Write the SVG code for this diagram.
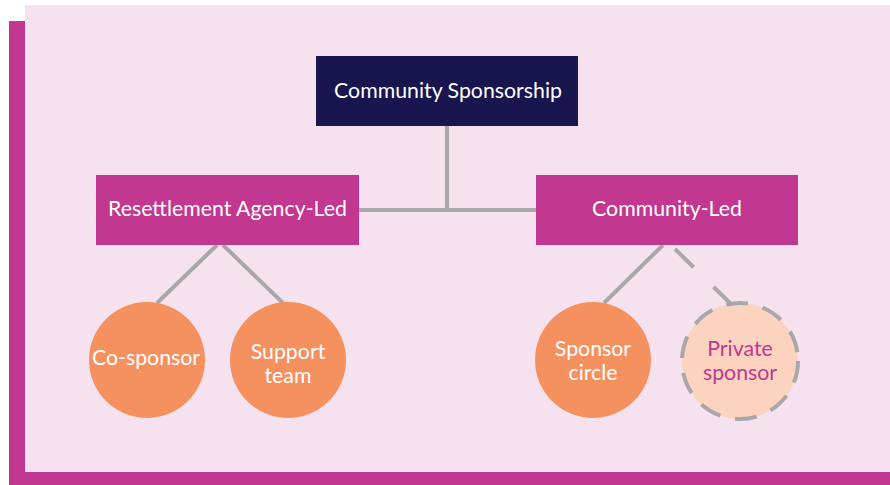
<svg xmlns="http://www.w3.org/2000/svg" width="890" height="485" viewBox="0 0 890 485">
  <style>
    .lbl { font-family: Lato, "Open Sans", "Liberation Sans", sans-serif; font-size: 21.3px; fill: #ffffff; text-anchor: middle; }
    .rect-m { fill: #c2378f; }
    .circ { fill: #f5905f; }
    .conn { stroke: #a8a8aa; stroke-width: 4; fill: none; }
  </style>
  <rect x="9" y="21" width="881" height="464" fill="#c2378f"/>
  <rect x="25" y="5" width="865" height="467" fill="#f6e2ef"/>

  <g id="connectors">
    <line class="conn" x1="447" y1="126" x2="447" y2="210"/>
    <line class="conn" x1="358" y1="210" x2="536" y2="210"/>
    <line class="conn" x1="217" y1="245" x2="157" y2="303"/>
    <line class="conn" x1="223" y1="245" x2="283" y2="303"/>
    <line class="conn" x1="663" y1="245" x2="604" y2="303"/>
    <line class="conn" x1="675" y1="249" x2="730" y2="303" stroke-dasharray="26 28"/>
  </g>

  <g id="node-community-sponsorship">
    <rect x="316" y="56" width="262" height="70" fill="#19154f"/>
    <text class="lbl" x="448" y="98">Community Sponsorship</text>
  </g>
  <g id="node-agency-led">
    <rect class="rect-m" x="96" y="175" width="263" height="70"/>
    <text class="lbl" x="227.5" y="216">Resettlement Agency-Led</text>
  </g>
  <g id="node-community-led">
    <rect class="rect-m" x="536" y="175" width="262" height="70"/>
    <text class="lbl" x="667" y="216">Community-Led</text>
  </g>
  <g id="node-co-sponsor">
    <circle class="circ" cx="147" cy="360" r="58"/>
    <text class="lbl" x="146" y="365">Co-sponsor</text>
  </g>
  <g id="node-support-team">
    <circle class="circ" cx="288" cy="360" r="58"/>
    <text class="lbl" x="288" y="359">Support</text>
    <text class="lbl" x="288" y="383">team</text>
  </g>
  <g id="node-sponsor-circle">
    <circle class="circ" cx="593" cy="360" r="58"/>
    <text class="lbl" x="593" y="356">Sponsor</text>
    <text class="lbl" x="593" y="380">circle</text>
  </g>
  <g id="node-private-sponsor">
    <circle cx="740" cy="361" r="58" fill="#fcd3bf" stroke="#a8a8aa" stroke-width="4" stroke-dasharray="22 15"/>
    <text class="lbl" x="740" y="356" style="fill:#c2378f">Private</text>
    <text class="lbl" x="740" y="380" style="fill:#c2378f">sponsor</text>
  </g>
</svg>
